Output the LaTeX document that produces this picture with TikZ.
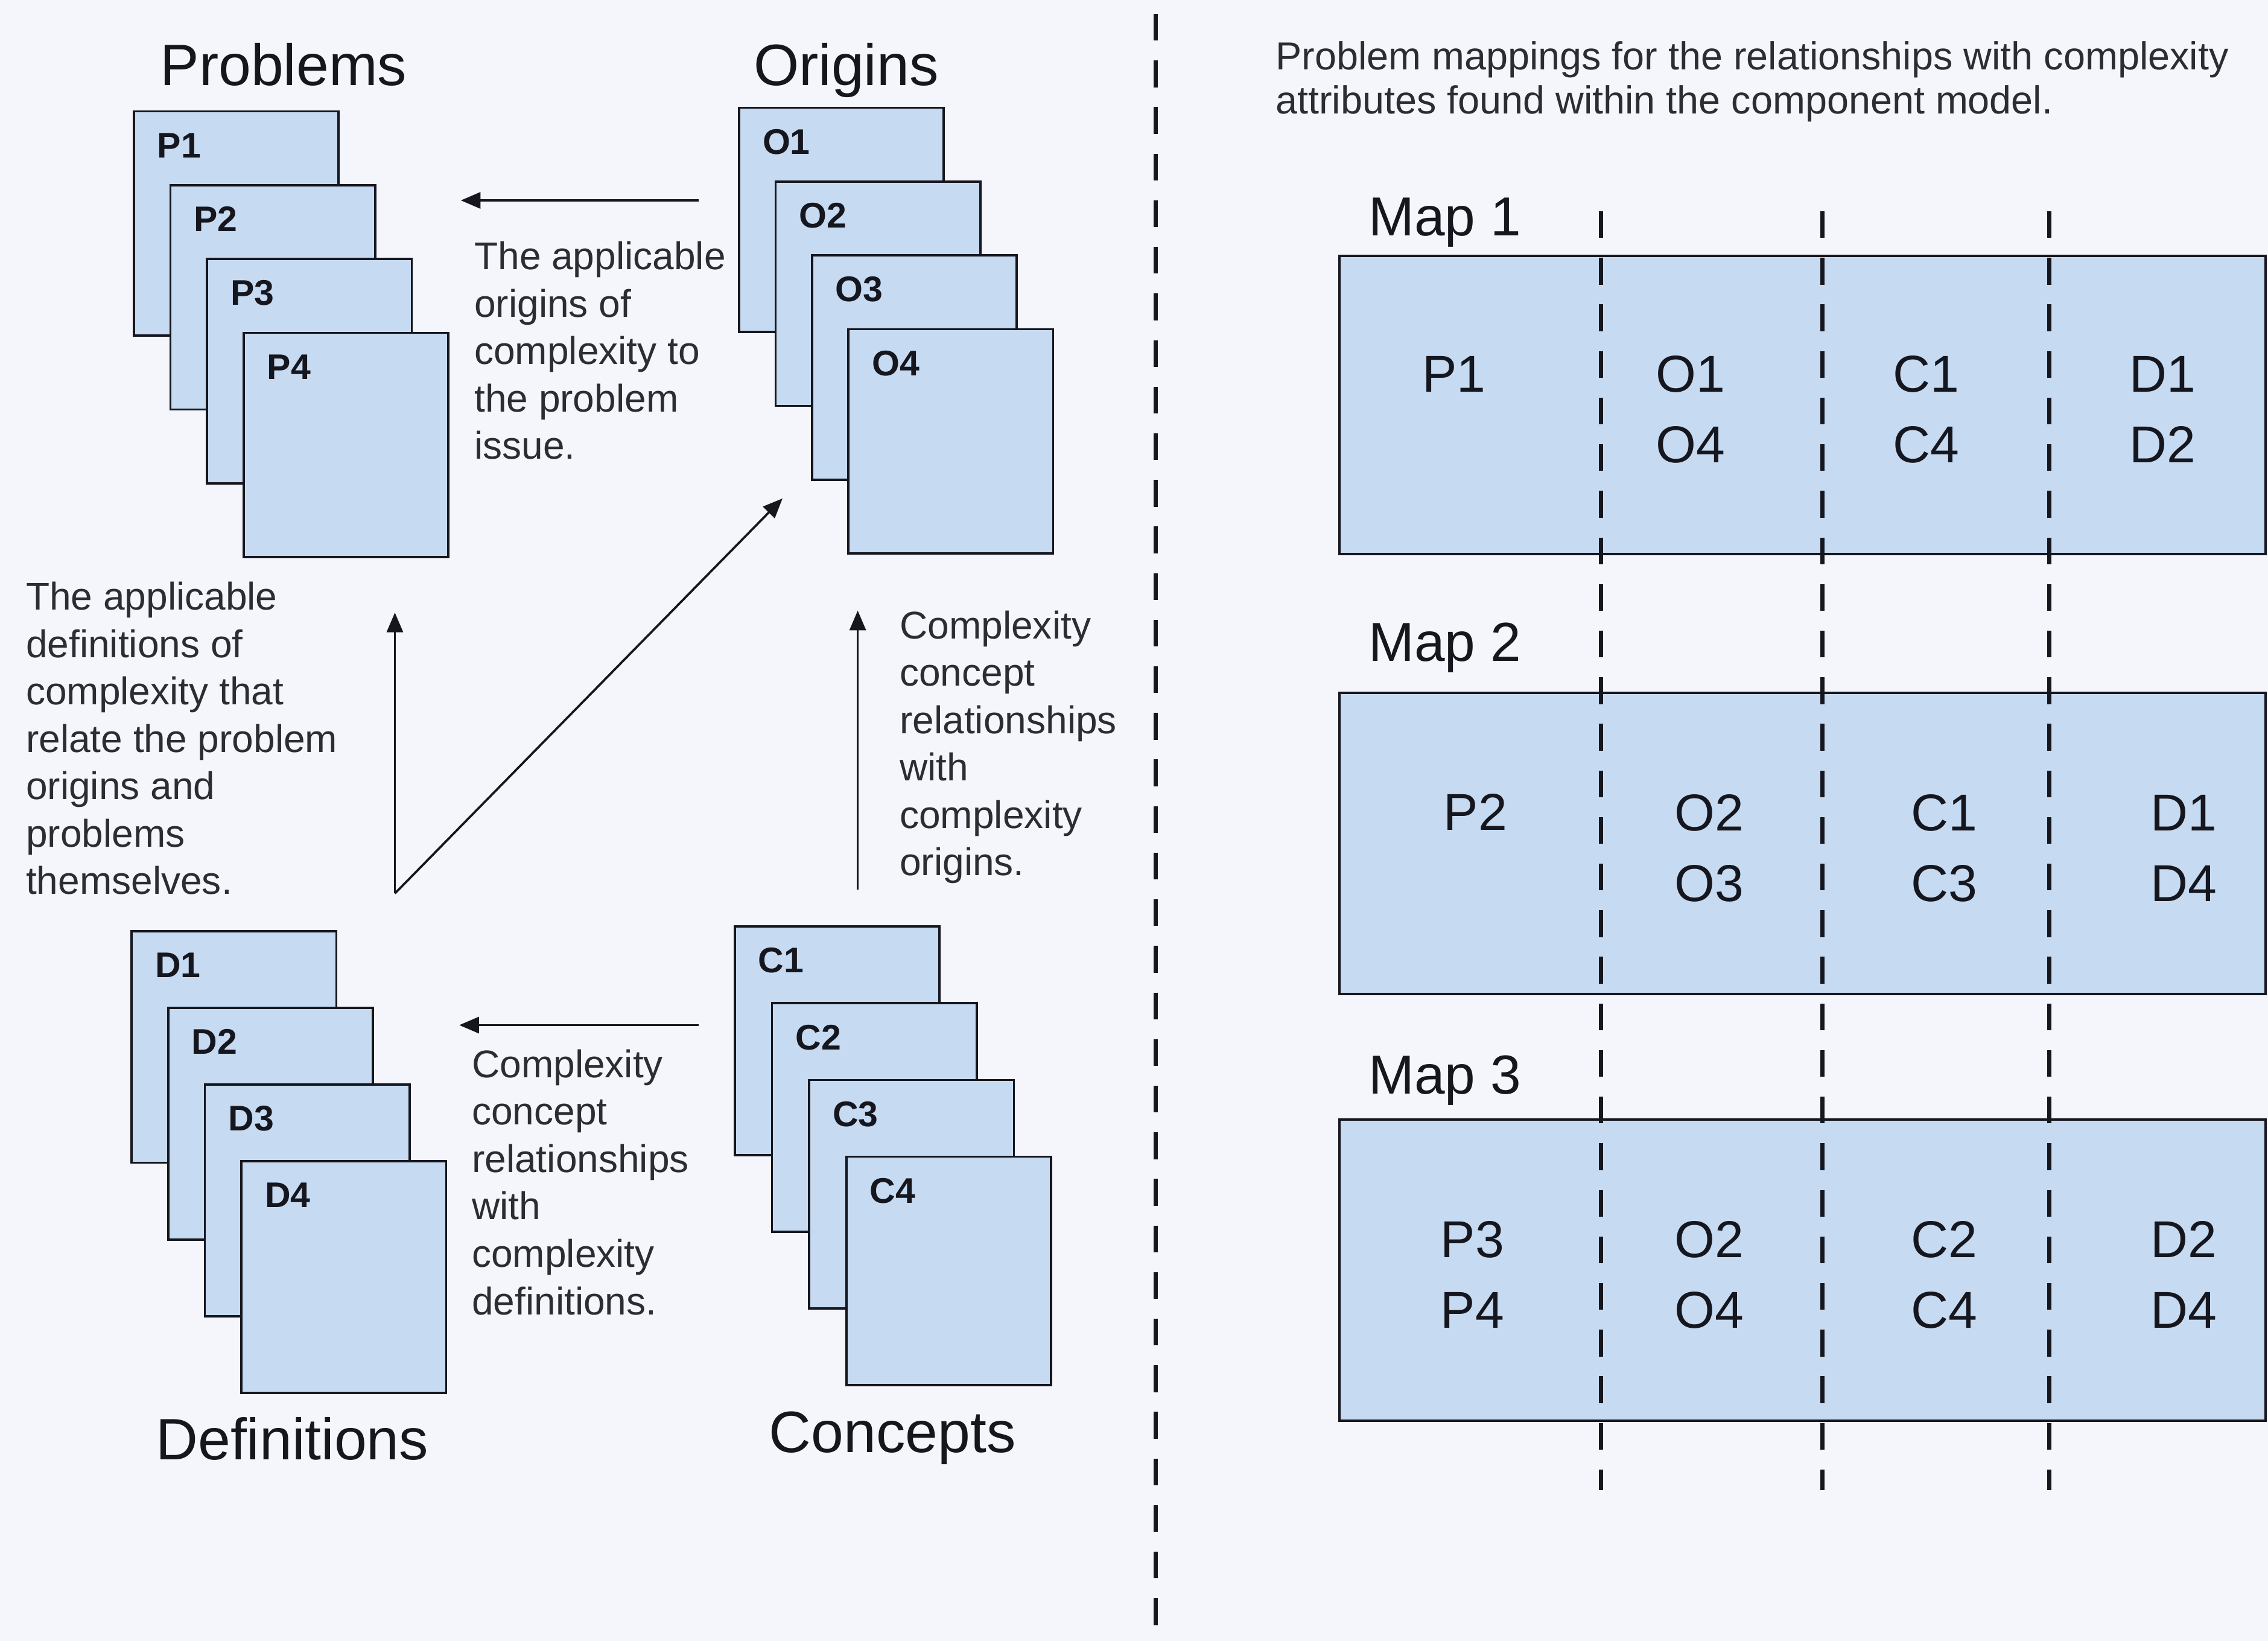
\documentclass[tikz,border=0pt]{standalone}
\usepackage{fontspec}
\setmainfont{Liberation Sans}
\usetikzlibrary{arrows.meta}
\definecolor{paper}{HTML}{F4F6FB}
\definecolor{cardfill}{HTML}{C6DBF2}
\definecolor{ink}{HTML}{16161E}
\definecolor{notegray}{HTML}{2C2C32}
\begin{document}
\begin{tikzpicture}[x=0.025cm,y=-0.025cm,
  card/.style={draw=ink, line width=1.1pt, fill=cardfill, anchor=north west,
    inner sep=0pt, outer sep=0pt, minimum width=3.5375cm},
  cardlabel/.style={anchor=base west, inner sep=0pt, text=ink,
    font=\bfseries\fontsize{17.5}{20}\selectfont},
  title/.style={anchor=base, inner sep=0pt, text=ink,
    font=\fontsize{28.7}{34}\selectfont},
  % multi-line texts sit on the baseline of their last line
  note/.style={anchor=base west, align=left, inner sep=0pt, text=notegray,
    font=\fontsize{19}{23.3}\selectfont},
  flow/.style={line width=1.1pt, draw=ink, -{Triangle[length=0.34cm,width=0.28cm]}},
  divider/.style={line width=2pt, draw=ink, dash pattern=on 0.4625cm off 0.3425cm},
  maprow/.style={draw=ink, line width=1.2pt, fill=cardfill, anchor=north west,
    inner sep=0pt, outer sep=0pt, minimum width=16cm},
  maplabel/.style={anchor=base west, inner sep=0pt, text=ink,
    font=\fontsize{27}{32}\selectfont},
  cell/.style={anchor=base, align=center, inner sep=0pt, text=ink,
    font=\fontsize{25.5}{34.7}\selectfont}]

% page
\useasboundingbox (0,0) rectangle (1568,1134);
\fill[paper] (0,0) rectangle (1568,1134);

% ---------------- left half: the four stacks ----------------
\node[title] (tP) at (196,59) {Problems};
\node[title] (tO) at (585,59) {Origins};
\node[title] (tD) at (202,1009) {Definitions};
\node[title] (tC) at (617,1004) {Concepts};

\foreach \i in {1,...,4} {
  \node[card, minimum height=3.875cm] (P\i) at ({92.5+25.3*(\i-1)},{77+51*(\i-1)}) {};
  \node[cardlabel] (lP\i) at ([shift={(16,32)}]P\i.north west) {P\i};
}
\foreach \i in {1,...,4} {
  \node[card, minimum height=3.875cm] (O\i) at ({511+25.2*(\i-1)},{74.5+51*(\i-1)}) {};
  \node[cardlabel] (lO\i) at ([shift={(16,32)}]O\i.north west) {O\i};
}
\foreach \i in {1,...,4} {
  \node[card, minimum height=4cm] (D\i) at ({91+25.3*(\i-1)},{643.6+53*(\i-1)}) {};
  \node[cardlabel] (lD\i) at ([shift={(16,32)}]D\i.north west) {D\i};
}
\foreach \i in {1,...,4} {
  \node[card, minimum height=3.95cm] (C\i) at ({508+25.7*(\i-1)},{640.4+53*(\i-1)}) {};
  \node[cardlabel] (lC\i) at ([shift={(16,32)}]C\i.north west) {C\i};
}

% arrow end points
\coordinate (ao) at (483,138.5);   \coordinate (ap) at (318.6,138.5);
\coordinate (ac) at (483,708.5);   \coordinate (ad) at (317.5,708.5);
\coordinate (vfoot) at (273,617.5);
\coordinate (vtop) at (273,423.4);
\coordinate (diag) at (541,344.5);
\coordinate (cfoot) at (593,615);  \coordinate (ctop) at (593,422);

\draw[flow] (ao) -- (ap);
\draw[flow] (ac) -- (ad);
\draw[flow] (vfoot) -- (vtop);
\draw[flow] (vfoot) -- (diag);
\draw[flow] (cfoot) -- (ctop);

\node[note] (n1) at (327.7,317.3) {The applicable\\origins of\\complexity to\\the problem\\issue.};
\node[note] (n2) at (17.7,618.1) {The applicable\\definitions of\\complexity that\\relate the problem\\origins and\\problems\\themselves.};
\node[note] (n3) at (621.8,605.2) {Complexity\\concept\\relationships\\with\\complexity\\origins.};
\node[note] (n4) at (326,908.5) {Complexity\\concept\\relationships\\with\\complexity\\definitions.};

% separator between the two halves
\coordinate (sepTop) at (799,9.6);
\coordinate (sepBot) at (799,1134);
\draw[divider] (sepTop) -- (sepBot);

% ---------------- right half: the problem maps ----------------
\node[note, font=\fontsize{19.2}{21.7}\selectfont] (caption) at (881.7,78.6)
  {Problem mappings for the relationships with complexity\\attributes found within the component model.};

\node[maplabel] (lm1) at (946,163) {Map 1};
\node[maplabel] (lm2) at (946,457) {Map 2};
\node[maplabel] (lm3) at (946,756) {Map 3};

\node[maprow, minimum height=5.15cm] (m1) at (926,177) {};
\node[maprow, minimum height=5.2cm] (m2) at (926,479) {};
\node[maprow, minimum height=5.2cm] (m3) at (926,773.7) {};

\foreach \x/\n in {1106.7/a,1260/b,1416.8/c} {
  \coordinate (col\n top) at (\x,146);
  \coordinate (col\n bot) at (\x,1030);
  \draw[divider] (col\n top) -- (col\n bot);
}

% Map 1 entries
\node[cell] (m1p) at (1005.3,270.9) {P1};
\node[cell] (m1o) at (1168.6,319.8) {O1\\O4};
\node[cell] (m1c) at (1331.8,319.8) {C1\\C4};
\node[cell] (m1d) at (1495,319.8) {D1\\D2};
% Map 2 entries
\node[cell] (m2p) at (1020,573.9) {P2};
\node[cell] (m2o) at (1181.6,622.8) {O2\\O3};
\node[cell] (m2c) at (1344,622.8) {C1\\C3};
\node[cell] (m2d) at (1509.8,622.8) {D1\\D4};
% Map 3 entries
\node[cell] (m3p) at (1018,917.8) {P3\\P4};
\node[cell] (m3o) at (1181.6,917.8) {O2\\O4};
\node[cell] (m3c) at (1344,917.8) {C2\\C4};
\node[cell] (m3d) at (1509.8,917.8) {D2\\D4};

\end{tikzpicture}
\end{document}
